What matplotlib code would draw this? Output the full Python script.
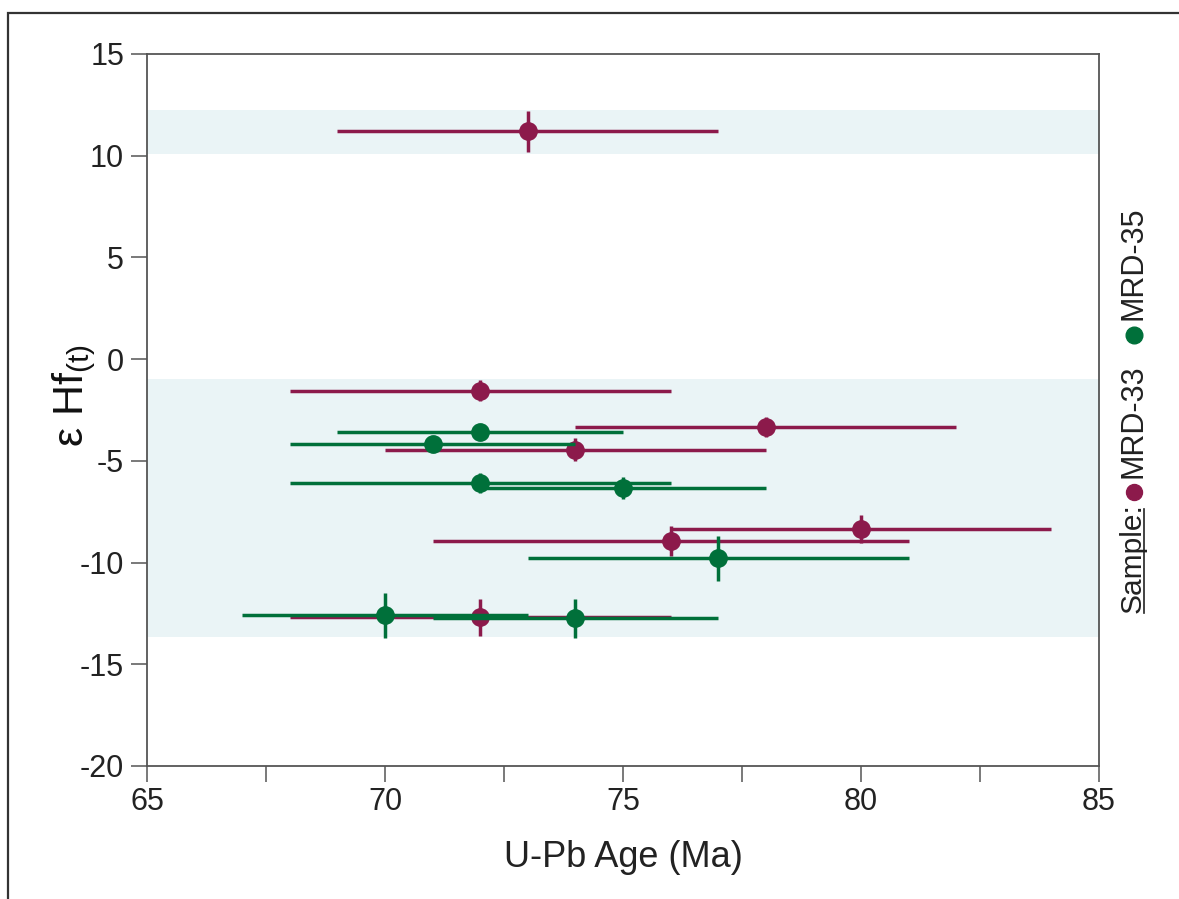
import matplotlib
matplotlib.use('Agg')
import matplotlib.pyplot as plt
from matplotlib.lines import Line2D
from matplotlib.patches import Rectangle
from matplotlib.ticker import MultipleLocator

plt.rcParams['font.family'] = ['Liberation Sans', 'DejaVu Sans']
plt.rcParams['mathtext.fontset'] = 'custom'
plt.rcParams['mathtext.rm'] = 'Liberation Sans'
plt.rcParams['mathtext.it'] = 'Liberation Sans:italic'
plt.rcParams['axes.unicode_minus'] = False

# sample MRD-33
age_33 = [73, 72, 78, 74, 80, 76, 72]
age_err_33 = [4, 4, 4, 4, 4, 5, 4]
ehf_33 = [11.2, -1.55, -3.35, -4.45, -8.35, -8.95, -12.7]
ehf_err_33 = [1.0, 0.5, 0.5, 0.55, 0.7, 0.75, 0.9]

# sample MRD-35
age_35 = [72, 71, 72, 75, 77, 70, 74]
age_err_35 = [3, 3, 4, 3, 4, 3, 3]
ehf_35 = [-3.6, -4.15, -6.1, -6.35, -9.8, -12.6, -12.75]
ehf_err_35 = [0.3, 0.3, 0.5, 0.55, 1.1, 1.1, 0.95]

# shaded eHf ranges
bands = [(10.1, 12.25), (-13.65, -0.98)]

c33 = '#8C1A4B'
c35 = '#00703A'
band_color = '#EAF4F6'
axis_color = '#555555'
text_color = '#222222'

fig = plt.figure(figsize=(11.79, 8.99), dpi=100)
ax = fig.add_axes([0.1247, 0.148, 0.8074, 0.792])

for lo, hi in bands:
    ax.axhspan(lo, hi, color=band_color, lw=0, zorder=0)

ax.errorbar(age_33, ehf_33, xerr=age_err_33, yerr=ehf_err_33, fmt='o',
            color=c33, ms=12.5, elinewidth=2.5, capsize=0, zorder=3)
ax.errorbar(age_35, ehf_35, xerr=age_err_35, yerr=ehf_err_35, fmt='o',
            color=c35, ms=12.5, elinewidth=2.5, capsize=0, zorder=4)

ax.set_xlim(65, 85)
ax.set_ylim(-20, 15)
ax.xaxis.set_major_locator(MultipleLocator(5))
ax.xaxis.set_minor_locator(MultipleLocator(2.5))
ax.yaxis.set_major_locator(MultipleLocator(5))

for s in ax.spines.values():
    s.set_color(axis_color)
    s.set_linewidth(1.3)
ax.tick_params(which='both', direction='out', length=11.5, width=1.1,
               color=axis_color, labelsize=22, labelcolor=text_color)
ax.tick_params(axis='y', pad=5)
ax.tick_params(axis='x', pad=4)

ax.set_xlabel('U-Pb Age (Ma)', fontsize=26, color=text_color, labelpad=16)
ax.set_ylabel('ε Hf$_{\\mathrm{(t)}}$', fontsize=31, color='#111111')
ax.yaxis.set_label_coords(-0.052, 0.52)

# legend, rotated along the right side
W, H = 1179, 899
lx = 1133 / W
fig.text(lx, (H - 613) / H, 'Sample:', rotation=90, ha='center', va='bottom',
         fontsize=21.5, color=text_color)
fig.add_artist(Line2D([1144 / W, 1144 / W], [(H - 613) / H, (H - 509) / H],
                      color=text_color, lw=1.2))
fig.add_artist(Line2D([1134 / W], [(H - 492) / H], marker='o', ms=11.5,
                      color=c33, ls='none'))
fig.text(lx, (H - 478) / H, 'MRD-33', rotation=90, ha='center', va='bottom',
         fontsize=22, color=text_color)
fig.add_artist(Line2D([1134 / W], [(H - 335) / H], marker='o', ms=12,
                      color=c35, ls='none'))
fig.text(lx, (H - 320) / H, 'MRD-35', rotation=90, ha='center', va='bottom',
         fontsize=22, color=text_color)

# outer frame
fig.add_artist(Rectangle((8 / W, -0.1), 1.2, (H - 13) / H + 0.1,
                         fill=False, ec='#333333', lw=1.6,
                         transform=fig.transFigure))

fig.savefig('out.png', dpi=100)
